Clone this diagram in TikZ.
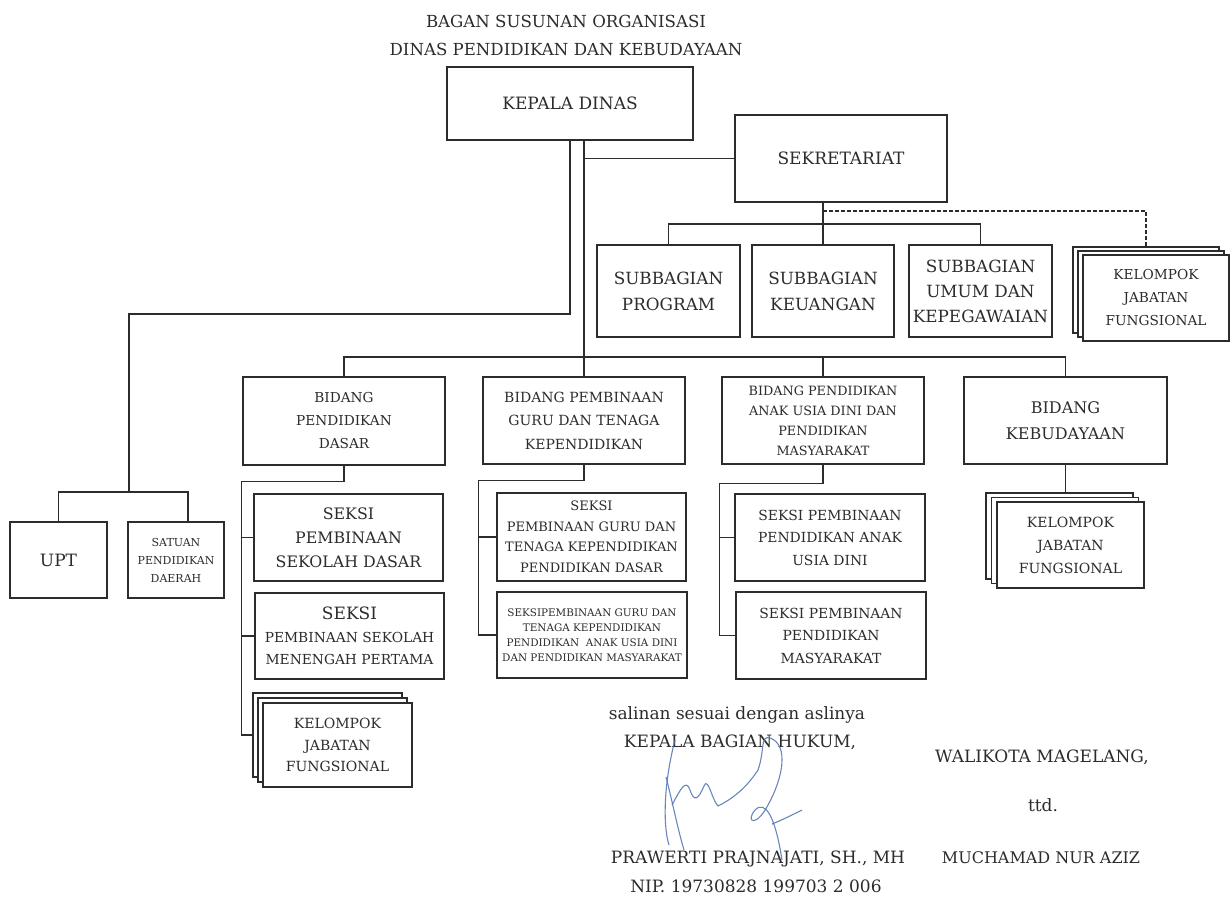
\documentclass[tikz,border=0pt]{standalone}
\usepackage{fontspec}
\setmainfont{DejaVu Serif}
\usetikzlibrary{calc}

\definecolor{ink}{HTML}{2C2C2C}
\definecolor{pen}{HTML}{4F73B0}
\newcommand{\fz}[2]{\fontsize{#1}{#2}\selectfont}

\tikzset{
    unit/.style={draw=ink, line width=1.4pt, fill=white, align=center, inner sep=0pt, text=ink},
    sheet/.style={unit, minimum width=146pt, minimum height=86pt},
    link/.style={draw=ink, line width=1.2pt},
    label/.style={text=ink, inner sep=0pt, font=\fz{17}{18}},
}

\begin{document}
\begin{tikzpicture}[x=1pt, y=-1pt]
    \useasboundingbox[fill=white] (0,0) rectangle (1230,900);

    \node[label, align=center, font=\fz{16.6}{28}] (title) at (566,35) {BAGAN SUSUNAN ORGANISASI\\DINAS PENDIDIKAN DAN KEBUDAYAAN};

    \node[unit, minimum width=246pt, minimum height=73pt, font=\fz{17}{18}] (kd) at (570,103.5) {KEPALA DINAS};
    \node[unit, minimum width=212pt, minimum height=87pt, font=\fz{17}{18}] (sek) at (841,158.5) {SEKRETARIAT};

    \node[unit, minimum width=143pt, minimum height=92pt, font=\fz{16.8}{26}] (sbprog) at (668.5,291) {SUBBAGIAN\\PROGRAM};
    \node[unit, minimum width=142pt, minimum height=92pt, font=\fz{16.8}{26}] (sbkeu) at (823,291) {SUBBAGIAN\\KEUANGAN};
    \node[unit, minimum width=143pt, minimum height=92pt, font=\fz{16.8}{25}] (sbumum) at (980.5,291) {SUBBAGIAN\\UMUM DAN\\KEPEGAWAIAN};

    \node[sheet] (kr1) at (1146,290) {};
    \node[sheet] (kr2) at (1151,294) {};
    \node[sheet, font=\fz{13.7}{23}] (kr3) at (1156,298) {KELOMPOK\\JABATAN\\FUNGSIONAL};

    \node[unit, minimum width=97pt, minimum height=76pt, font=\fz{17}{18}] (upt) at (58.5,560) {UPT};
    \node[unit, minimum width=96pt, minimum height=76pt, font=\fz{11}{18}] (sat) at (176,560) {SATUAN\\PENDIDIKAN\\DAERAH};

    \node[unit, minimum width=202pt, minimum height=88pt, font=\fz{13.7}{23}] (bdas) at (344,421) {BIDANG\\PENDIDIKAN\\DASAR};
    \node[unit, minimum width=202pt, minimum height=87pt, font=\fz{14}{23.5}] (bguru) at (584,420.5) {BIDANG PEMBINAAN\\GURU DAN TENAGA\\KEPENDIDIKAN};
    \node[unit, minimum width=202pt, minimum height=87pt, font=\fz{12.8}{20}] (bpaud) at (823,420.5) {BIDANG PENDIDIKAN\\ANAK USIA DINI DAN\\PENDIDIKAN\\MASYARAKAT};
    \node[unit, minimum width=203pt, minimum height=87pt, font=\fz{16}{26}] (bkeb) at (1065.5,420.5) {BIDANG\\KEBUDAYAAN};

    \node[unit, minimum width=189pt, minimum height=87pt, font=\fz{15.8}{24}] (ssd) at (348.5,537.5) {SEKSI\\PEMBINAAN\\SEKOLAH DASAR};
    \node[unit, minimum width=189pt, minimum height=86pt, font=\fz{13.8}{22.5}] (ssmp) at (349.5,636) {{\fz{17}{22.5}SEKSI}\\PEMBINAAN SEKOLAH\\MENENGAH PERTAMA};
    \node[unit, minimum width=149pt, minimum height=84pt] (kd1) at (327.5,735) {};
    \node[unit, minimum width=149pt, minimum height=84pt] (kd2) at (332.5,740) {};
    \node[unit, minimum width=149pt, minimum height=84pt, font=\fz{14}{21.5}] (kd3) at (337.5,745) {KELOMPOK\\JABATAN\\FUNGSIONAL};

    \node[unit, minimum width=189pt, minimum height=88pt, font=\fz{13}{20.5}] (sg1) at (591.5,537) {SEKSI\\PEMBINAAN GURU DAN\\TENAGA KEPENDIDIKAN\\PENDIDIKAN DASAR};
    \node[unit, minimum width=190pt, minimum height=86pt, font=\fz{10.4}{15}] (sg2) at (592,635) {SEKSIPEMBINAAN GURU DAN\\TENAGA KEPENDIDIKAN\\PENDIDIKAN~~ANAK USIA DINI\\DAN PENDIDIKAN MASYARAKAT};

    \node[unit, minimum width=190pt, minimum height=87pt, font=\fz{13.9}{22.5}] (sp1) at (830,537.5) {SEKSI PEMBINAAN\\PENDIDIKAN ANAK\\USIA DINI};
    \node[unit, minimum width=190pt, minimum height=87pt, font=\fz{13.9}{22.5}] (sp2) at (831,635.5) {SEKSI PEMBINAAN\\PENDIDIKAN\\MASYARAKAT};

    \node[sheet, minimum width=147pt] (kk1) at (1059.5,536) {};
    \node[sheet, minimum width=147pt] (kk2) at (1065,540.5) {};
    \node[sheet, minimum width=147pt, font=\fz{14}{23}] (kk3) at (1070.5,545) {KELOMPOK\\JABATAN\\FUNGSIONAL};

    \coordinate (elbow) at (129,314);
    \coordinate (fork) at (129,492);
    \coordinate (satin) at ([xshift=12pt]sat.north);
    \coordinate (sbar) at (0,224);
    \coordinate (dbar) at (0,211);
    \coordinate (bbar) at (0,357);

    \draw[link] (kd.south) |- (elbow) -- (fork);
    \draw[link] (upt.north) -- (upt.north |- fork) -- (satin |- fork) -- (satin);

    \draw[link] (kd.south -| bguru.north) -- (bguru.north);
    \draw[link] (sek.west) -- (sek.west -| bguru.north);
    \draw[link] (bdas.north) -- (bdas.north |- bbar) -- (bkeb.north |- bbar) -- (bkeb.north);
    \draw[link] (bpaud.north) -- (bpaud.north |- bbar);

    \draw[link] (sek.south -| sbkeu.north) -- (sbkeu.north);
    \draw[link] (sbprog.north) -- (sbprog.north |- sbar) -- (sbumum.north |- sbar) -- (sbumum.north);
    \draw[link, dash pattern=on 3.5pt off 2.5pt] (sbkeu.north |- dbar) -| (kr1.north);

    \draw[link] (bdas.south) -- ++(0,16) -| ($(kd1.west)+(-11,0)$) -- (kd1.west);
    \draw[link] (ssd.west) -- ++(-12,0);
    \draw[link] (ssmp.west) -- ++(-13,0);

    \draw[link] (bguru.south) -- ++(0,16) -| ($(sg2.west)+(-18,0)$) -- (sg2.west);
    \draw[link] (sg1.west) -- ++(-18,0);

    \draw[link] (bpaud.south) -- ++(0,19) -| ($(sp2.west)+(-16,0)$) -- (sp2.west);
    \draw[link] (sp1.west) -- ++(-15,0);

    \draw[link] (bkeb.south) -- (bkeb.south |- kk1.north);

    \node[label] (salin) at (737,715) {salinan sesuai dengan aslinya};
    \node[label] (kbh) at (740,742) {KEPALA BAGIAN HUKUM,};
    \node[label] (praw) at (758,859) {PRAWERTI PRAJNAJATI, SH., MH};
    \node[label] (nip) at (756,886) {NIP. 19730828 199703 2 006};
    \node[label] (wali) at (1042,757) {WALIKOTA MAGELANG,};
    \node[label] (ttd) at (1043,805) {ttd.};
    \node[label, font=\fz{16}{18}] (much) at (1041,858) {MUCHAMAD NUR AZIZ};

    \draw[pen, line width=1.1pt, opacity=0.85] (675,740) .. controls (662,790) and (664,830) .. (669,845);
    \draw[pen, line width=1.1pt, opacity=0.85] (666,777) .. controls (672,800) and (678,830) .. (684,850);
    \draw[pen, line width=1.1pt, opacity=0.85] (672,805) .. controls (680,790) and (686,778) .. (690,790) .. controls (694,802) and (698,800) .. (704,786) .. controls (708,776) and (712,800) .. (718,806) .. controls (730,800) and (745,790) .. (758,770);
    \draw[pen, line width=1.1pt, opacity=0.85] (758,770) .. controls (765,750) and (760,735) .. (770,738) .. controls (790,745) and (782,780) .. (768,805) .. controls (756,828) and (745,822) .. (755,810) .. controls (765,800) and (775,815) .. (782,860);
    \draw[pen, line width=1.1pt, opacity=0.85] (772,824) .. controls (782,820) and (792,815) .. (802,810);
\end{tikzpicture}
\end{document}
